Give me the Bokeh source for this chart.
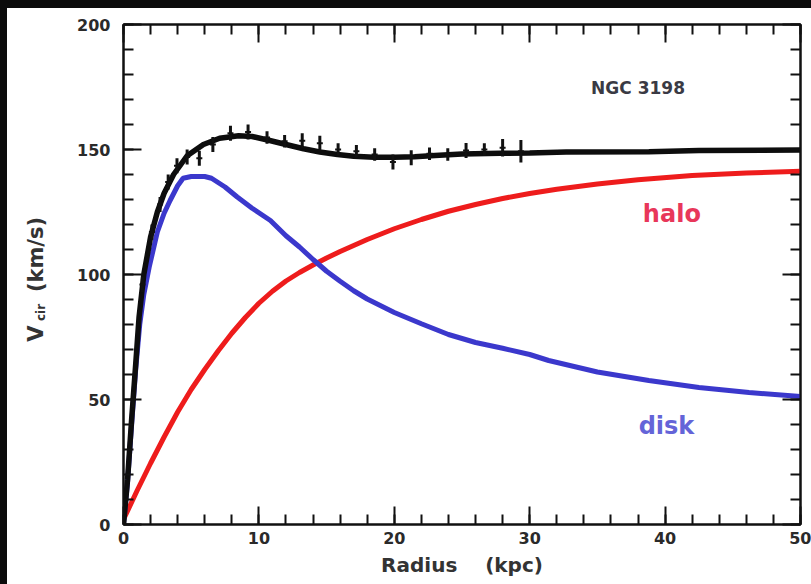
import math
from bokeh.plotting import figure
from bokeh.layouts import row
from bokeh.models import Range1d, LinearAxis, Label, SingleIntervalTicker
from bokeh.embed import file_html
from bokeh.resources import INLINE

# NGC 3198 rotation curve: total fit, stellar disk and dark halo (km/s vs kpc)
r_total = [0, 0.3, 0.6, 0.9, 1.15, 1.5, 2.0, 2.5, 3.0, 3.7, 4.7, 5.9, 7.1, 8.5, 9.5,
           10.8, 12.0, 13.3, 14.5, 15.8, 17.0, 18.5, 20.0, 21.5, 23.0, 25.0, 27.8,
           30.0, 32.7, 38.8, 42.5, 50.0]
v_total = [0, 18, 42, 64, 83, 100, 115, 125, 132.5, 140, 147.5, 152, 154.5, 155.5, 155.2,
           153.6, 152, 150.3, 149, 148, 147.3, 146.9, 146.9, 147.1, 147.6, 148.2, 148.5,
           148.6, 149, 149.1, 149.6, 149.8]

r_disk = [0, 0.3, 0.6, 0.9, 1.2, 1.5, 1.9, 2.5, 3.0, 3.44, 4.0, 4.4, 5.0, 6.0, 6.5, 7.5,
          8.4, 9.5, 10.85, 12.0, 13.0, 14.0, 15.0, 16.0, 17.0, 18.0, 20.0, 22.0, 24.0,
          26.0, 28.0, 30.0, 31.4, 35.0, 38.8, 42.5, 46.2, 50.0]
v_disk = [0, 17, 40, 62, 80, 92, 103, 117, 124.5, 129.6, 135.5, 138.5, 139.2, 139.2, 138.5,
          135, 131, 126.5, 121.6, 115.5, 111, 106, 101.3, 97.3, 93.5, 90.2, 84.8, 80.3, 76,
          72.8, 70.5, 68, 65.6, 61, 57.6, 54.8, 52.8, 51.2]

r_halo = [0, 1, 2, 3, 4, 5, 6, 7, 8, 9, 10, 11, 12, 13, 14, 15, 16, 18, 20, 22, 24, 26,
          28, 30, 32, 35, 38, 42, 46, 50]
v_halo = [2, 13.5, 24.5, 35, 45, 54, 62, 69.5, 76.5, 82.8, 88.5, 93.3, 97.4, 100.8, 103.8,
          106.6, 109.2, 114, 118.3, 122, 125.3, 128, 130.4, 132.4, 134.1, 136.2, 137.9,
          139.6, 140.6, 141.3]

# Observed HI rotation velocities with errors
r_obs = [0.7, 1.4, 2.1, 2.7, 3.3, 3.95, 4.7, 5.6, 6.6, 7.9, 9.2, 10.6, 11.9, 13.2, 14.5,
         15.85, 17.2, 18.55, 19.9, 21.25, 22.6, 23.95, 25.3, 26.65, 28.0, 29.35]
v_obs = [50, 96, 117, 128, 137, 143.5, 147, 146.5, 152, 156.5, 157, 154.8, 153.3, 153.5,
         152.5, 150, 149.3, 148, 145, 146.7, 148.3, 148, 149.6, 150, 150.7, 149.3]
e_obs = [3, 3, 3, 3, 3, 3, 3, 3, 3, 3, 3, 2.5, 2.5, 3, 3, 2.5, 2.5, 2.5, 3, 3, 2.5, 2.5,
         3, 2.5, 3.5, 4.5]

x_ticks_major = 10
y_ticks_major = 50

label_font = "DejaVu Sans"
tick_color = "#2a2a2a"
ylab_color = "#333333"

# narrow panel holding the vertical axis title; its frame spans window x 7..55, y 24..524
title_panel = figure(width=48, height=576, x_range=Range1d(7, 55), y_range=Range1d(524, 24),
                     output_backend="svg", toolbar_location=None,
                     x_axis_type=None, y_axis_type=None,
                     min_border_left=0, min_border_right=0, min_border_top=16,
                     min_border_bottom=60, border_fill_color="white",
                     background_fill_color="white")
title_panel.outline_line_color = None
title_panel.xgrid.grid_line_color = None
title_panel.ygrid.grid_line_color = None
title_panel.add_layout(Label(x=35, y=333, text="V", angle=math.pi / 2, text_font=label_font,
                             text_font_style="bold", text_font_size="21px",
                             text_color=ylab_color, text_align="center",
                             text_baseline="middle"))
title_panel.add_layout(Label(x=40, y=312, text="cir", angle=math.pi / 2, text_font=label_font,
                             text_font_style="bold", text_font_size="12px",
                             text_color=ylab_color, text_align="center",
                             text_baseline="middle"))
title_panel.add_layout(Label(x=35, y=254, text="(km/s)", angle=math.pi / 2,
                             text_font=label_font, text_font_style="bold",
                             text_font_size="21px", text_color=ylab_color,
                             text_align="center", text_baseline="middle"))

p = figure(width=756, height=576, x_range=Range1d(0, 50), y_range=Range1d(0, 200),
           output_backend="svg", toolbar_location=None,
           min_border_left=68, min_border_right=11, min_border_top=16,
           min_border_bottom=60, background_fill_color="white",
           border_fill_color="white")
p.xgrid.grid_line_color = None
p.ygrid.grid_line_color = None
p.outline_line_color = "#111111"
p.outline_line_width = 2


def style_axis(ax, show_labels):
    ax.axis_line_width = 2
    ax.axis_line_color = "#111111"
    ax.major_tick_line_color = "#111111"
    ax.minor_tick_line_color = "#111111"
    ax.major_tick_line_width = 2
    ax.minor_tick_line_width = 2
    ax.major_tick_in = 18
    ax.major_tick_out = 0
    ax.minor_tick_in = 10
    ax.minor_tick_out = 0
    if show_labels:
        ax.major_label_text_font = label_font
        ax.major_label_text_font_style = "bold"
        ax.major_label_text_font_size = "16px"
        ax.major_label_text_color = tick_color
    else:
        # mirror axis: ticks only, no tick labels drawn
        ax.major_label_text_font_size = "1px"
        ax.major_label_text_color = None
        ax.major_label_standoff = 0


xa = p.xaxis[0]
ya = p.yaxis[0]
xa.ticker = SingleIntervalTicker(interval=x_ticks_major, num_minor_ticks=5)
ya.ticker = SingleIntervalTicker(interval=y_ticks_major, num_minor_ticks=5)
style_axis(xa, True)
style_axis(ya, True)
xa.major_label_standoff = 7
ya.major_label_standoff = 13
xa.axis_label = "Radius\u00a0\u00a0\u00a0\u00a0(kpc)"
xa.axis_label_text_font = label_font
xa.axis_label_text_font_style = "bold"
xa.axis_label_text_font_size = "20px"
xa.axis_label_text_color = "#333333"
xa.axis_label_standoff = 6

top = LinearAxis(ticker=SingleIntervalTicker(interval=x_ticks_major, num_minor_ticks=5))
right = LinearAxis(ticker=SingleIntervalTicker(interval=y_ticks_major, num_minor_ticks=5))
style_axis(top, False)
style_axis(right, False)
p.add_layout(top, "above")
p.add_layout(right, "right")

# model curves
p.line(r_halo, v_halo, line_color="#ee1c1c", line_width=5)
p.line(r_disk, v_disk, line_color="#3b38cc", line_width=5)
p.line(r_total, v_total, line_color="#0d0d0d", line_width=5.5)

# observed points with error bars
lo = [v - e for v, e in zip(v_obs, e_obs)]
hi = [v + e for v, e in zip(v_obs, e_obs)]
p.segment(x0=r_obs, y0=lo, x1=r_obs, y1=hi, line_color="#111111", line_width=3)
p.scatter(r_obs, v_obs, marker="dash", size=6, line_color="#111111", line_width=2)

# annotations
p.add_layout(Label(x=38.0, y=174.8, text="NGC 3198", text_font=label_font,
                   text_font_style="bold", text_font_size="17px", text_color="#3a3a44",
                   text_align="center", text_baseline="middle"))
p.add_layout(Label(x=40.5, y=124.4, text="halo", text_font=label_font,
                   text_font_style="bold", text_font_size="24px", text_color="#e8375a",
                   text_align="center", text_baseline="middle"))
p.add_layout(Label(x=40.1, y=39.6, text="disk", text_font=label_font,
                   text_font_style="bold", text_font_size="24px", text_color="#6464d8",
                   text_align="center", text_baseline="middle"))

layout = row(title_panel, p, spacing=0)
layout.margin = (8, 0, 0, 7)
layout.styles = {"background-color": "white"}

html = file_html(layout, INLINE)
html = html.replace("</head>",
                    "<style>html,body{margin:0;padding:0;background:#0b0b0b;}</style></head>", 1)
open("out.html", "w").write(html)
